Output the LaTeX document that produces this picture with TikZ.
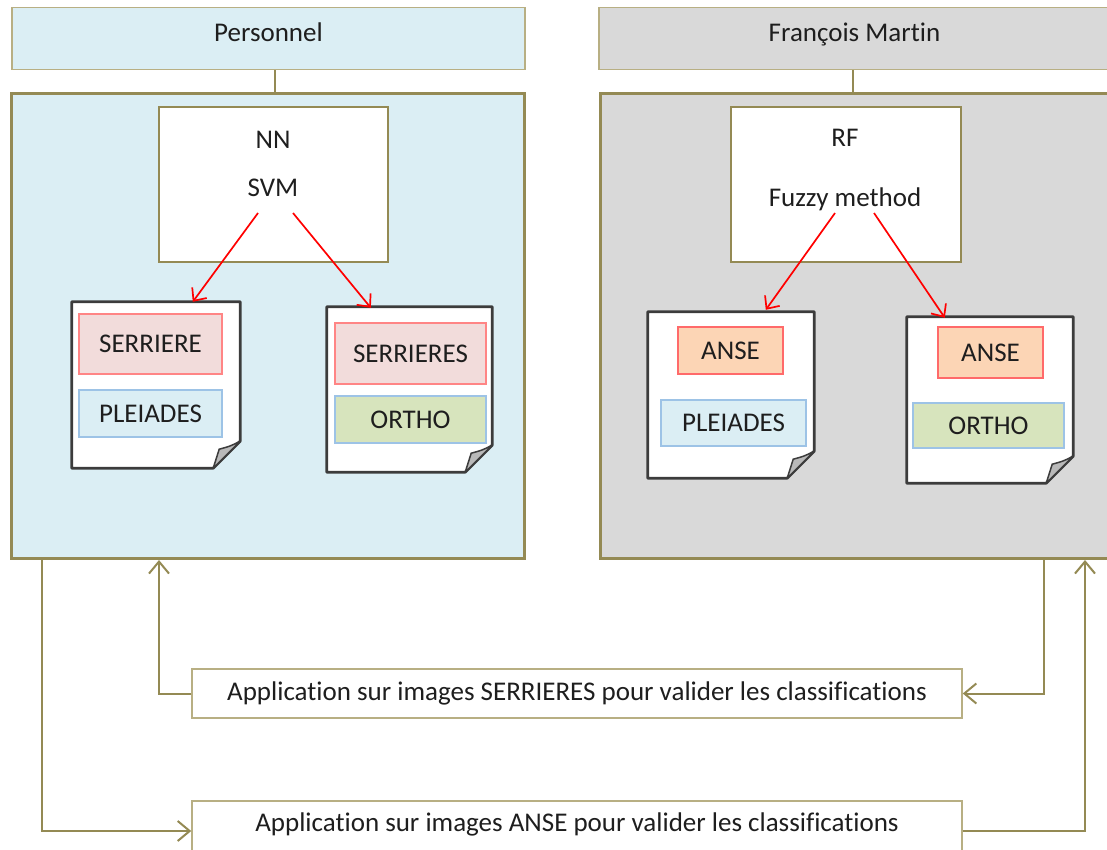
\documentclass[tikz,border=0pt]{standalone}
\usepackage{fontspec}
\setmainfont{Carlito}[Ligatures=NoCommon]
\usetikzlibrary{arrows.meta,calc}
\definecolor{olive}{HTML}{948A54}
\definecolor{olivelt}{HTML}{B8AF83}
\definecolor{lblue}{HTML}{DBEEF4}
\definecolor{lgray}{HTML}{D9D9D9}
\definecolor{pinkf}{HTML}{F2DCDB}
\definecolor{pinkb}{HTML}{FF8585}
\definecolor{orangef}{HTML}{FCD5B5}
\definecolor{orangeb}{HTML}{FF6A6A}
\definecolor{blueb}{HTML}{9DC3E6}
\definecolor{greenf}{HTML}{D7E4BD}
\definecolor{docc}{HTML}{3C3C3C}
\definecolor{txt}{HTML}{1E1E1E}
\tikzset{
  every node/.style={font=\fontsize{27}{32}\selectfont, text=txt},
  hdr/.style={draw=olivelt, line width=1.5pt, inner sep=0pt, text depth=11.5pt, text height=18.5pt},
  mainbox/.style={draw=olive, line width=3pt, inner sep=0pt},
  algbox/.style={draw=olive, line width=2.5pt, fill=white, inner sep=0pt},
  docpg/.style={inner sep=0pt},
  docline/.style={draw=docc, line width=2.8pt, fill=white, line join=round},
  foldline/.style={draw=docc, line width=1.5pt, fill=gray!55, line join=round},
  pinkbox/.style={draw=pinkb, fill=pinkf, line width=1.5pt, inner sep=0pt},
  orangebox/.style={draw=orangeb, fill=orangef, line width=1.5pt, inner sep=0pt},
  bluebox/.style={draw=blueb, fill=lblue, line width=1.5pt, inner sep=0pt},
  greenbox/.style={draw=blueb, fill=greenf, line width=1.5pt, inner sep=0pt},
  appbox/.style={draw=olivelt, line width=1.5pt, fill=white, inner sep=0pt},
  redarrow/.style={draw=red, line width=1.7pt, -{Straight Barb[length=10pt,width=18pt,line width=1.7pt]}},
  olivearrow/.style={draw=olive, line width=2pt, -{Straight Barb[length=12pt,width=20pt,line width=2pt]}},
  oliveline/.style={draw=olive, line width=2pt},
}
\newcommand{\pagedoc}[1]{%
  \path[docline] (#1.north west) -- (#1.north east) -- ($(#1.south east)+(0,-27)$) -- ($(#1.south east)+(-27,0)$) -- (#1.south west) -- cycle;
  \path[foldline] ($(#1.south east)+(-27,0)$) .. controls ($(#1.south east)+(-24,-9)$) .. ($(#1.south east)+(-21,-19)$) .. controls ($(#1.south east)+(-10,-22)$) .. ($(#1.south east)+(0,-27)$) -- cycle;
}
\begin{document}
\begin{tikzpicture}[x=1pt,y=-1pt]
\useasboundingbox[fill=white] (0,0) rectangle (1107,850);

% headers
\node[hdr, fill=lblue, minimum width=513pt, minimum height=62pt] (lhdr) at (268.5,38.5) {Personnel};
\node[hdr, fill=lgray, minimum width=511pt, minimum height=62pt] (rhdr) at (854.5,38.5) {François Martin};

% main boxes
\node[mainbox, fill=lblue, minimum width=513pt, minimum height=465pt] (lmain) at (268,326) {};
\node[mainbox, fill=lgray, minimum width=510pt, minimum height=465pt] (rmain) at (855,326) {};

\coordinate (xl) at (275,0);
\draw[oliveline] (lhdr.south -| xl) -- (lmain.north -| xl);
\coordinate (xr) at (853,0);
\draw[oliveline] (rhdr.south -| xr) -- (rmain.north -| xr);

% algorithm boxes
\node[algbox, minimum width=229pt, minimum height=155pt] (nnbox) at (273.5,184.5) {};
\node[align=center, font=\fontsize{27}{48}\selectfont] (nntxt) at (273,164) {NN\\SVM};
\node[algbox, minimum width=230pt, minimum height=155pt] (rfbox) at (846,184.5) {};
\node[align=center, font=\fontsize{27}{60}\selectfont] (rftxt) at (845,170) {RF\\Fuzzy method};

% documents
\node[docpg, minimum width=168pt, minimum height=166pt] (doc1) at (156,385) {};
\node[docpg, minimum width=165pt, minimum height=165pt] (doc2) at (409.5,389.5) {};
\node[docpg, minimum width=166pt, minimum height=166pt] (doc3) at (731,395) {};
\node[docpg, minimum width=166pt, minimum height=166pt] (doc4) at (990,400) {};
\pagedoc{doc1}
\pagedoc{doc2}
\pagedoc{doc3}
\pagedoc{doc4}

\node[pinkbox, minimum width=143pt, minimum height=60pt] (ser1) at (150.5,344) {SERRIERE};
\node[bluebox, minimum width=143pt, minimum height=47pt] (ple1) at (150.5,413.5) {PLEIADES};
\node[pinkbox, minimum width=151pt, minimum height=61pt] (ser2) at (410.5,353.5) {SERRIERES};
\node[greenbox, minimum width=151pt, minimum height=47pt] (ort1) at (410.5,419.5) {ORTHO};
\node[orangebox, minimum width=105pt, minimum height=47pt] (anse1) at (730.5,350.5) {ANSE};
\node[bluebox, minimum width=145pt, minimum height=46pt] (ple2) at (733.5,423) {PLEIADES};
\node[orangebox, minimum width=105pt, minimum height=51pt] (anse2) at (990.5,352.5) {ANSE};
\node[greenbox, minimum width=151pt, minimum height=45pt] (ort2) at (988.5,425.5) {ORTHO};

% red arrows
\coordinate (s1) at (258,213);
\coordinate (s2) at (293,213);
\coordinate (s3) at (835,213);
\coordinate (s4) at (874,213);
\draw[redarrow] (s1) -- ($(doc1.north west)+(121,0)$);
\draw[redarrow] (s2) -- ($(doc2.north west)+(44,1)$);
\draw[redarrow] (s3) -- ($(doc3.north west)+(118,-2)$);
\draw[redarrow] (s4) -- ($(doc4.north west)+(38,1)$);

% application boxes
\node[appbox, minimum width=770pt, minimum height=49pt] (app1) at (577,693.5) {Application sur images SERRIERES pour valider les classifications};
\node[appbox, minimum width=770pt, minimum height=60pt, text depth=18pt, text height=18.5pt] (app2) at (577,831) {Application sur images ANSE pour valider les classifications};

% olive connectors
\coordinate (xa) at (1044,0);
\coordinate (xb) at (159,0);
\coordinate (xc) at (42,0);
\coordinate (xd) at (1085,0);
\draw[olivearrow] (rmain.south -| xa) |- (app1.east);
\draw[olivearrow] (app1.west) -| (lmain.south -| xb);
\draw[olivearrow] (lmain.south -| xc) |- (app2.west);
\draw[olivearrow] (app2.east) -| (rmain.south -| xd);
\end{tikzpicture}
\end{document}
